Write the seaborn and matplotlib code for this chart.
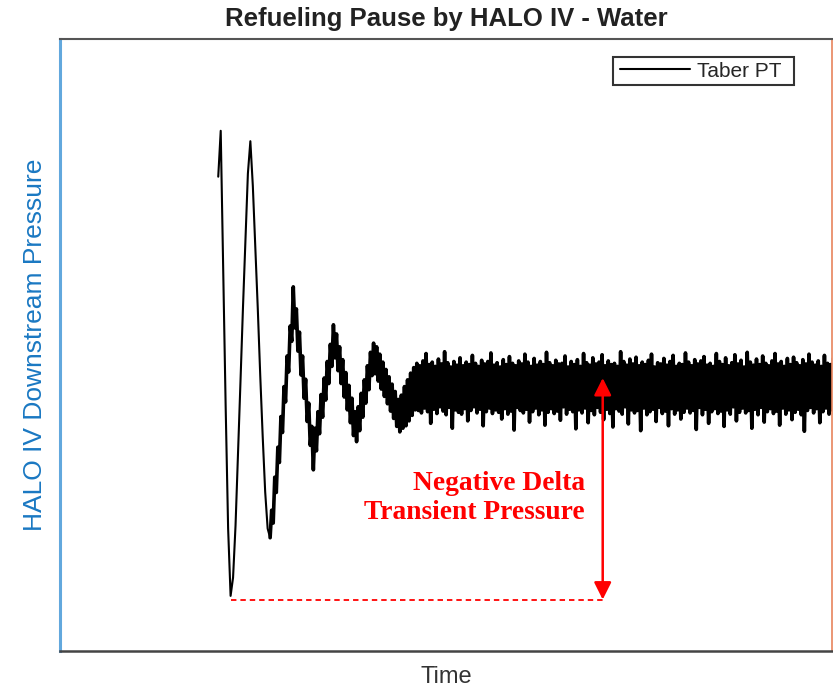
import numpy as np
import pandas as pd
import matplotlib
matplotlib.use("Agg")
import matplotlib.pyplot as plt
from matplotlib.patches import Rectangle
import seaborn as sns

# Taber PT trace (arbitrary pressure units)
# first two clean swings, sampled every 0.32 time units
transient_start = 20.5
transient_period = 0.32
pressure_transient = [
    77.5, 85.0, 62.0, 40.0, 20.0, 9.0, 12.0, 20.5, 32.0, 44.0,
    56.0, 67.0, 78.0, 83.3, 76.0, 66.0, 56.0, 45.0, 35.0, 26.0,
    20.0, 18.5,
]

# noisy part after the second trough, sampled every 0.2 time units
noisy_period = 0.2
pressure_noisy = [
    # swing 3 up / down
    23.0, 20.9, 28.4, 25.9, 33.3, 30.8, 38.3, 35.7, 43.2, 40.7,
    48.2, 45.6, 53.1, 50.6, 59.5, 52.8, 55.9, 49.0, 52.1, 45.1,
    48.2, 41.3, 44.4, 37.5, 40.5, 33.6, 36.7, 29.6,
    # swing 4
    36.4, 32.7, 39.1, 35.5, 41.9, 38.2, 44.6, 41.0, 47.3, 43.7,
    50.1, 46.5, 53.3, 47.9, 51.8, 45.8, 49.7, 43.7, 47.6, 41.5,
    45.5, 39.4, 43.4, 37.3, 41.3, 35.2, 39.1, 34.2,
    # swing 5
    39.9, 36.0, 42.1, 38.2, 44.3, 40.5, 46.6, 42.7, 48.8, 45.0,
    50.3, 45.3, 49.7, 44.1, 48.5, 42.8, 47.2, 41.6, 46.0, 40.4,
    44.8, 39.2, 43.6, 38.0, 42.4, 36.7, 41.1, 35.8,
    # recovery
    41.8, 36.4, 43.2, 36.8, 44.3, 37.6, 45.4, 38.5, 46.3, 39.4,
    # settled noise band
    47.0, 39.3, 46.6, 38.9, 47.4, 39.7, 48.6, 39.1, 46.8, 37.2, 47.2, 39.5, 46.5, 38.8, 47.7, 39.9,
    46.9, 39.2, 48.9, 38.6, 47.1, 39.8, 46.4, 36.4, 47.3, 39.4, 46.7, 39.0, 47.9, 38.7, 46.6, 39.6,
    47.2, 37.6, 46.8, 39.3, 48.3, 39.9, 47.0, 38.9, 46.5, 39.5, 47.5, 36.8, 46.9, 39.1, 47.3, 39.7,
    48.7, 38.8, 46.7, 39.4, 47.1, 39.0, 46.4, 37.9, 47.6, 39.6, 46.8, 38.7, 48.1, 39.2, 47.0, 36.1,
    46.6, 39.8, 47.4, 39.3, 46.9, 38.9, 48.5, 39.5, 47.2, 37.4, 46.5, 39.1, 47.8, 39.7, 46.7, 38.6,
    47.3, 39.4, 46.8, 36.9, 48.8, 39.0, 47.1, 39.6, 46.6, 38.8, 47.5, 39.2, 46.9, 37.7, 47.0, 39.9,
    48.2, 38.7, 46.4, 39.5, 47.3, 39.1, 46.8, 36.3, 47.6, 39.4, 46.5, 38.9, 48.6, 39.7, 47.1, 37.3,
    46.7, 39.3, 47.9, 38.6, 46.9, 39.8, 47.2, 39.0, 48.4, 37.8, 46.6, 39.5, 47.4, 38.8, 46.8, 36.6,
    47.0, 39.6, 46.5, 39.2, 48.9, 38.7, 47.3, 39.9, 46.7, 37.1, 47.7, 39.4, 46.9, 38.9, 48.0, 39.3,
    46.6, 36.0, 47.2, 39.7, 46.8, 38.6, 47.5, 39.1, 48.5, 39.5, 46.4, 37.5, 47.1, 39.8, 46.9, 38.8,
    47.8, 39.2, 46.7, 36.8, 47.3, 39.6, 48.3, 38.7, 46.5, 39.4, 47.0, 37.9, 46.8, 39.0, 48.7, 39.7,
    47.2, 38.9, 46.6, 39.3, 47.6, 36.2, 46.9, 39.8, 47.4, 38.6, 48.1, 39.5, 46.7, 37.2, 47.0, 39.1,
    46.5, 39.6, 48.6, 38.8, 47.3, 39.2, 46.8, 36.7, 47.9, 39.4, 46.6, 38.7, 47.1, 39.9, 48.4, 37.6,
    46.9, 39.0, 47.5, 39.7, 46.4, 38.9, 48.8, 39.3, 47.2, 36.4, 46.7, 39.5, 47.7, 38.6, 46.8, 39.8,
    48.2, 37.4, 47.0, 39.1, 46.6, 39.6, 47.4, 38.8, 48.6, 39.2, 46.9, 36.9, 47.3, 39.7, 46.5, 38.7,
    47.8, 39.4, 46.8, 37.8, 48.0, 39.0, 47.1, 39.5, 46.6, 38.6, 47.6, 35.9, 46.9, 39.3, 48.5, 39.8,
    47.2, 38.9, 46.7, 39.6, 47.4, 37.3, 46.5, 39.1, 48.3, 39.7, 47.0, 38.7, 46.8, 39.4, 47.9, 36.5,
]

# annotation: where the delta arrow sits and the settled level it points to
delta_time = 70.3
settled_pressure = 44.6
delta_label = "Negative Delta\nTransient Pressure"

t_transient = transient_start + transient_period * np.arange(len(pressure_transient))
t_noisy = t_transient[-1] + noisy_period * np.arange(1, len(pressure_noisy) + 1)
time = np.concatenate([t_transient, t_noisy])
pressure = np.array(pressure_transient + pressure_noisy)
df = pd.DataFrame({"Time": time, "Pressure": pressure})
df_noisy = df[df["Time"] >= t_transient[-1]]

sns.set_theme(style="white")
plt.rcParams["font.family"] = ["Liberation Sans", "DejaVu Sans"]

fig = plt.figure(figsize=(8.33, 6.89), dpi=100)
ax = fig.add_axes([0.0720, 0.0552, 0.9268, 0.8882])

sns.lineplot(data=df, x="Time", y="Pressure", color="black", linewidth=1.5,
             label="Taber PT", ax=ax, sort=False, estimator=None)
# the dense noise reads as a solid band in the original, so draw it heavier
sns.lineplot(data=df_noisy, x="Time", y="Pressure", color="black", linewidth=2.6,
             ax=ax, sort=False, estimator=None, legend=False)

ax.set_xlim(0, 100)
ax.set_ylim(0, 100)
ax.set_xticks([])
ax.set_yticks([])

# minimum of the transient and the dashed reference line
i_min = int(np.argmin(pressure))
p_min = pressure[i_min]
ax.plot([time[i_min], delta_time], [p_min - 0.6, p_min - 0.6], color="red",
        linestyle=(0, (3, 2.2)), linewidth=1.3)
ax.annotate("", xy=(delta_time, settled_pressure), xytext=(delta_time, p_min - 0.6),
            arrowprops=dict(arrowstyle="<|-|>", color="red", lw=1.8,
                            mutation_scale=26, shrinkA=0, shrinkB=0))
ax.text(delta_time - 2.3, 25.0, delta_label, color="red", ha="right", va="center",
        multialignment="right", fontsize=19.8, fontweight="bold",
        family=["Liberation Serif", "DejaVu Serif"], linespacing=1.2)

ax.set_title("Refueling Pause by HALO IV - Water", fontsize=18.5, fontweight="bold",
             color="#222222", pad=9)
ax.set_xlabel("Time", fontsize=17, color="#333333", labelpad=11)
ax.set_ylabel("HALO IV Downstream Pressure", fontsize=19, color="#1a78c2", labelpad=9)

# legend box drawn separately so its padding matches the original
ax.add_patch(Rectangle((0.7163, 0.9248), 0.2345, 0.0458, transform=ax.transAxes,
                       facecolor="white", edgecolor="#333333", linewidth=1.5, zorder=4))
leg = ax.legend(loc="center left", bbox_to_anchor=(0.7254, 0.9477), fontsize=15,
                frameon=False, handlelength=3.36, handletextpad=0.34,
                borderpad=0, borderaxespad=0)
leg.set_zorder(5)

ax.spines["left"].set_color("#62a8dd")
ax.spines["left"].set_linewidth(2.2)
ax.spines["right"].set_color("#e8845c")
ax.spines["right"].set_linewidth(1.2)
ax.spines["top"].set_color("#555555")
ax.spines["top"].set_linewidth(1.5)
ax.spines["bottom"].set_color("#444444")
ax.spines["bottom"].set_linewidth(1.8)

fig.savefig("out.png", dpi=100)
